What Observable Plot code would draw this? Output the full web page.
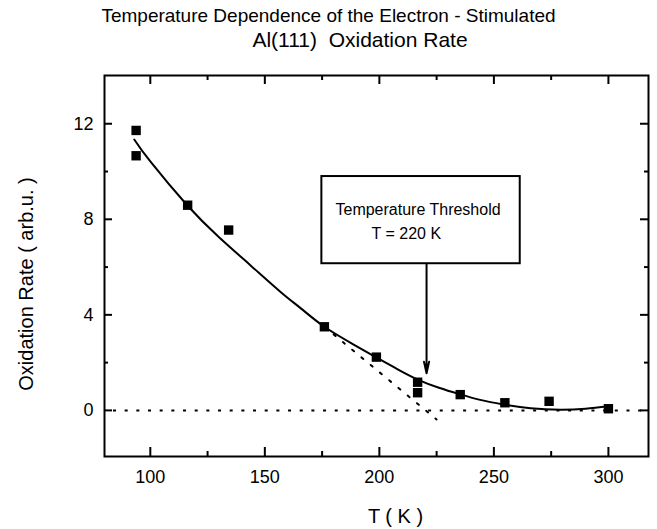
<!DOCTYPE html>
<html><head><meta charset="utf-8">
<script src="https://cdn.jsdelivr.net/npm/d3@7"></script>
<script src="https://cdn.jsdelivr.net/npm/@observablehq/plot@0.6"></script>
<style>
body{margin:0;background:#fff}
svg{font-family:"Liberation Sans",Arial,Helvetica,sans-serif}
</style>
</head><body><div id="chart"></div>
<script>
// measured data
const temperature = [93.8, 93.8, 116.3, 134.2, 176.0, 198.7, 216.7, 216.7, 235.3, 254.8, 274.1, 300.0];
const rate        = [11.72, 10.66, 8.59, 7.55, 3.50, 2.23, 1.18, 0.74, 0.66, 0.32, 0.38, 0.07];
// fitted curve
const fitT    = [93, 100, 116, 130, 144, 157, 166, 176, 188, 199, 208, 217, 226, 235, 244, 254, 266, 279, 290, 300];
const fitRate = [11.34, 10.42, 8.6, 7.25, 6.05, 4.95, 4.25, 3.5, 2.8, 2.2, 1.72, 1.28, 0.95, 0.68, 0.44, 0.25, 0.09, 0.03, 0.07, 0.17];
// dotted tangent to the threshold
const tangentT    = [176, 225];
const tangentRate = [3.5, -0.38];
// ticks
const xTicks = [100, 150, 200, 250, 300];
const xMinorTicks = [125, 175, 225, 275];
const yTicks = [0, 4, 8, 12];
const yMinorTicks = [2, 6, 10];
// annotation
const thresholdT = [220.6];
const arrowRate = [6.14, 1.55];
const boxT = [174.9, 261.5];
const boxRate = [6.14, 9.79];
const noteLines = ["Temperature Threshold", "T = 220 K"];
const noteT = [180.85, 196.6];
const noteRate = [8.2, 7.19];
const titleLines = ["Temperature Dependence of the Electron - Stimulated", "Al(111)  Oxidation Rate"];
const xLabel = "T ( K )";
const yLabel = "Oxidation Rate ( arb.u. )";

const W = 657, H = 529, mT = 75, mL = 104, mR = 9, mB = 73;
const fH = H - mT - mB, fW = W - mL - mR;

const points = temperature.map((t, i) => ({t, r: rate[i]}));
const fit = fitT.map((t, i) => ({t, r: fitRate[i]}));
const tangent = tangentT.map((t, i) => ({t, r: tangentRate[i]}));

const chart = Plot.plot({
  width: W, height: H,
  marginTop: mT, marginLeft: mL, marginRight: mR, marginBottom: mB,
  x: {domain: [80, 317.5], axis: null},
  y: {domain: [-1.93, 14.02], axis: null},
  style: {fontFamily: '"Liberation Sans", Arial, sans-serif', background: "white"},
  marks: [
    // zero line
    Plot.ruleY([0], {stroke: "black", strokeWidth: 2, strokeDasharray: "3,8.67", strokeDashoffset: 2.67}),
    // tangent
    Plot.line(tangent, {x: "t", y: "r", stroke: "black", strokeWidth: 2, strokeDasharray: "2.5,9.5"}),
    // fit
    Plot.line(fit, {x: "t", y: "r", curve: "natural", stroke: "black", strokeWidth: 2}),
    // data
    Plot.dot(points, {x: "t", y: "r", symbol: "square", r: 5.3, fill: "black", stroke: "none"}),
    // annotation box
    Plot.rect([0], {x1: () => boxT[0], x2: () => boxT[1], y1: () => boxRate[0], y2: () => boxRate[1], fill: "white", stroke: "black", strokeWidth: 2}),
    Plot.text(noteLines, {x: (d, i) => noteT[i], y: (d, i) => noteRate[i], text: d => d, textAnchor: "start", lineAnchor: "bottom", fontSize: 16, fill: "black"}),
    Plot.arrow(thresholdT, {x1: d => d, x2: d => d, y1: () => arrowRate[0], y2: () => arrowRate[1], stroke: "black", strokeWidth: 2, headLength: 9, headAngle: 25}),
    // frame & ticks
    Plot.frame({stroke: "black", strokeWidth: 2}),
    Plot.tickX(xTicks, {x: d => d, insetTop: fH - 9, stroke: "black", strokeWidth: 2}),
    Plot.tickX(xTicks, {x: d => d, insetBottom: fH - 9, stroke: "black", strokeWidth: 2}),
    Plot.tickX(xMinorTicks, {x: d => d, insetTop: fH - 5, stroke: "black", strokeWidth: 2}),
    Plot.tickX(xMinorTicks, {x: d => d, insetBottom: fH - 5, stroke: "black", strokeWidth: 2}),
    Plot.tickY(yTicks, {y: d => d, insetRight: fW - 8, stroke: "black", strokeWidth: 2}),
    Plot.tickY(yTicks, {y: d => d, insetLeft: fW - 8, stroke: "black", strokeWidth: 2}),
    Plot.tickY(yMinorTicks, {y: d => d, insetRight: fW - 4, stroke: "black", strokeWidth: 2}),
    Plot.tickY(yMinorTicks, {y: d => d, insetLeft: fW - 4, stroke: "black", strokeWidth: 2}),
    // tick labels
    Plot.text(xTicks, {x: d => d, frameAnchor: "bottom", dy: 26.7, lineAnchor: "bottom", fontSize: 18, fill: "black", text: d => String(d)}),
    Plot.text(yTicks, {y: d => d, frameAnchor: "left", dx: -11, textAnchor: "end", fontSize: 18, fill: "black", text: d => String(d)}),
    // axis labels
    Plot.text([xLabel], {frameAnchor: "bottom", dx: 19, dy: 66, lineAnchor: "bottom", textAnchor: "middle", fontSize: 20, fill: "black"}),
    Plot.text([yLabel], {frameAnchor: "left", dx: -72, dy: 18, rotate: -90, lineAnchor: "bottom", textAnchor: "middle", fontSize: 20, fill: "black"}),
    // title
    Plot.text([titleLines[0]], {frameAnchor: "top", dx: -48, dy: -53.5, lineAnchor: "bottom", textAnchor: "middle", fontSize: 19, fill: "black"}),
    Plot.text([titleLines[1]], {frameAnchor: "top", dx: -16.5, dy: -29, lineAnchor: "bottom", textAnchor: "middle", fontSize: 21, fill: "black"})
  ]
});
document.getElementById("chart").appendChild(chart);
</script>
</body></html>
